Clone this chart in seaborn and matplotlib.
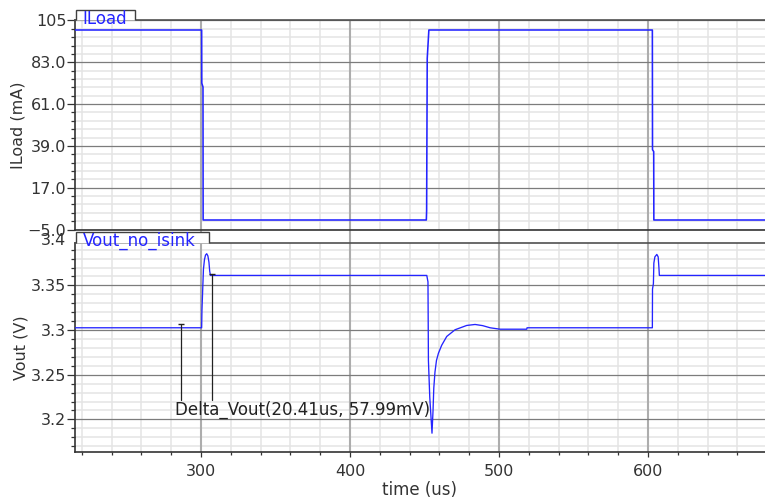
import numpy as np
import pandas as pd
import matplotlib
matplotlib.use("Agg")
import matplotlib.pyplot as plt
import matplotlib.transforms as mtrans
from matplotlib.patches import Polygon
from matplotlib.ticker import FixedLocator, FixedFormatter, MultipleLocator
import seaborn as sns

# ---------------- data ----------------
t_iload = [215.4, 300.4, 300.5, 301.3, 301.4, 451.2, 451.4, 451.8, 452.9,
           602.9, 603.0, 603.8, 603.9, 678.5]
i_iload = [100, 100, 72, 70, 0, 0, 5, 85, 100,
           100, 37, 36, 0, 0]

t_vout = [215.4, 300.4, 300.6, 301.1, 301.6, 302.3, 303.0, 303.8, 304.6, 305.3,
          305.8, 306.3, 451.5, 452.3, 452.6, 453.5, 455.0, 455.7, 456.2, 457.0,
          458.0, 459.3, 461.5, 464.9, 470.5, 478.3, 483.9, 489.0, 494.0, 500.7,
          518.6, 518.8, 602.9, 603.0, 603.6, 603.9, 604.6, 605.9, 606.8, 607.3,
          607.6, 678.5]
v_vout = [3.3026, 3.3026, 3.322, 3.345, 3.368, 3.379, 3.384, 3.3855, 3.383, 3.376,
          3.366, 3.3612, 3.3612, 3.354, 3.266, 3.225, 3.1846, 3.21, 3.235, 3.253,
          3.266, 3.274, 3.283, 3.2929, 3.3004, 3.3052, 3.3063, 3.305, 3.3026, 3.301,
          3.301, 3.3026, 3.3026, 3.346, 3.352, 3.375, 3.382, 3.3847, 3.382, 3.37,
          3.3612, 3.3612]

marker_t = [286.6, 307.2]
marker_v = [3.3063, 3.3631]
marker_label = "Delta_Vout(20.41us, 57.99mV)"

iload_ticks = [-5.0, 17.0, 39.0, 61.0, 83.0, 105.0]
iload_ticklabels = ["\u22125.0", "17.0", "39.0", "61.0", "83.0", "105"]
vout_ticks = [3.2, 3.25, 3.3, 3.35]
vout_ticklabels = ["3.2", "3.25", "3.3", "3.35"]
x_ticks = [300, 400, 500, 600]

# ---------------- style ----------------
sns.set_style("white")
plt.rcParams["font.family"] = ["DejaVu Sans"]

W, H = 765, 500
fig = plt.figure(figsize=(W / 100, H / 100), dpi=100)

L, R = 75, 765
ax1 = fig.add_axes([L / W, (H - 229.5) / H, (R - L) / W, (229.5 - 20.5) / H])
ax2 = fig.add_axes([L / W, (H - 451.5) / H, (R - L) / W, (451.5 - 243) / H])

blue = "#2424ff"
txtc = "#333333"
XLIM = (215.4, 678.5)

df1 = pd.DataFrame({"t": t_iload, "i": i_iload})
df2 = pd.DataFrame({"t": t_vout, "v": v_vout})
sns.lineplot(data=df1, x="t", y="i", ax=ax1, color=blue, lw=1.15,
             sort=False, estimator=None, zorder=5)
sns.lineplot(data=df2, x="t", y="v", ax=ax2, color=blue, lw=0.95,
             sort=False, estimator=None, zorder=5)

for ax, yt in ((ax1, iload_ticks), (ax2, vout_ticks)):
    ax.set_xlim(*XLIM)
    ax.xaxis.set_major_locator(FixedLocator(x_ticks))
    ax.xaxis.set_minor_locator(MultipleLocator(20))
    ax.set_axisbelow(True)
    ax.grid(which="minor", color="#e4e4e4", lw=1.1)
    ax.grid(which="major", visible=False)
    for xv in x_ticks:
        ax.axvline(xv, color="#adadad", lw=1.5, zorder=1)
    for yv in yt:
        ax.axhline(yv, color="#7c7c7c", lw=0.9, zorder=1.2)
    ax.spines["right"].set_visible(False)
    for s in ("left", "bottom"):
        ax.spines[s].set_color("#333333")
        ax.spines[s].set_linewidth(1.2)
    ax.spines["top"].set_color("#505050")
    ax.spines["top"].set_linewidth(1.2)
    ax.tick_params(axis="y", which="major", direction="out", length=5.8,
                   width=0.9, color="#333333", pad=0.5, labelsize=11.5,
                   labelcolor=txtc, left=True)
    ax.tick_params(axis="y", which="minor", direction="out", length=2.9,
                   width=0.9, color="#333333", left=True)

# top panel
ax1.set_ylim(-5, 105)
ax1.yaxis.set_major_locator(FixedLocator(iload_ticks))
ax1.yaxis.set_major_formatter(FixedFormatter(iload_ticklabels))
ax1.yaxis.set_minor_locator(FixedLocator(np.arange(-5, 105.01, 4.4)))
ax1.tick_params(axis="x", which="major", direction="out", length=9.8,
                width=1.5, color="#adadad", labelbottom=False, bottom=True)
ax1.tick_params(axis="x", which="minor", length=0)
ax1.set_xlabel("")
ax1.set_ylabel("ILoad (mA)", fontsize=11.5, color=txtc, labelpad=1.5)

# bottom panel
V_LO, V_HI = 3.1641, 3.3975
ax2.set_ylim(V_LO, V_HI)
ax2.yaxis.set_major_locator(FixedLocator(vout_ticks))
ax2.yaxis.set_major_formatter(FixedFormatter(vout_ticklabels))
ax2.yaxis.set_minor_locator(MultipleLocator(0.01))
ax2.tick_params(axis="x", which="major", direction="out", length=3.3,
                width=0.9, color="#333333", labelsize=11.5, labelcolor=txtc,
                pad=6, bottom=True)
ax2.tick_params(axis="x", which="minor", direction="out", length=1.8,
                width=0.9, color="#333333", bottom=True)
ax2.set_xlabel("time (us)", fontsize=12, color=txtc, labelpad=1)
ax2.set_ylabel("Vout (V)", fontsize=11.5, color=txtc, labelpad=1.5)

# "3.4" label sitting just above the visible range (as in the reference)
trans = mtrans.blended_transform_factory(ax2.transAxes, ax2.transData)
ax2.annotate("3.4", xy=(0, 3.4), xycoords=trans, xytext=(-6.2, 0),
             textcoords="offset points", ha="right", va="center",
             fontsize=11.5, color=txtc, annotation_clip=False)

# tabs
def tab(ax, x_right_px, top_px_above, label, base_px_below):
    h_ax = ax.get_position().height * H
    w_ax = ax.get_position().width * W
    x0 = 1.0 / w_ax
    x1 = (x_right_px - L) / w_ax
    yt = 1 + top_px_above / h_ax
    poly = Polygon([(x0, 1), (x0, yt), (x1, yt), (x1, 1)], closed=False,
                   transform=ax.transAxes, clip_on=False, facecolor="white",
                   edgecolor="#404040", lw=1.0, zorder=6)
    ax.add_patch(poly)
    ax.text(x0 + 6.5 / w_ax, 1 - base_px_below / h_ax, label,
            transform=ax.transAxes, ha="left", va="baseline",
            fontsize=12, color=blue, zorder=7, clip_on=False)

tab(ax1, 135, 10.5, "ILoad", 3.2)
tab(ax2, 209.3, 11.3, "Vout_no_isink", 2.3)

# markers / annotation
text_top_v = 3.2212
for mt, mv in zip(marker_t, marker_v):
    ax2.plot([mt, mt], [mv, text_top_v], color="#222222", lw=0.9, zorder=6)
    ax2.plot([mt], [mv], marker="_", ms=5, mew=1.0, color="#222222", zorder=6)
ax2.text(282.6, 3.2055, marker_label, ha="left", va="baseline",
         fontsize=12, color="#222222", zorder=7)

fig.savefig("out.png", dpi=100)
